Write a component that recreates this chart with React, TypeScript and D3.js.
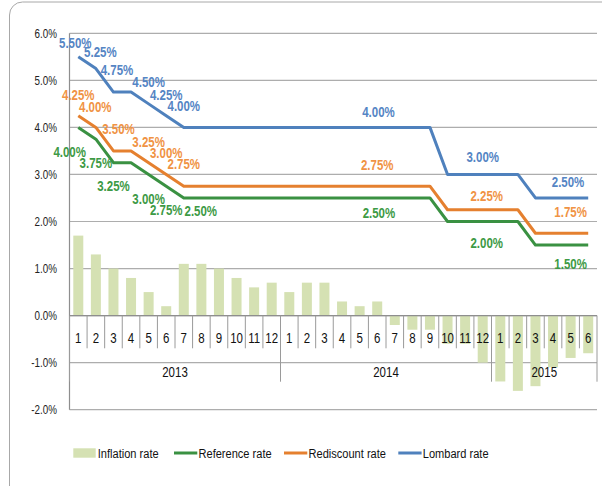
import React from 'react';
import * as d3 from 'd3';

const months = ['1','2','3','4','5','6','7','8','9','10','11','12','1','2','3','4','5','6','7','8','9','10','11','12','1','2','3','4','5','6'];
const yearLabels = ['2013', '2014', '2015'];
const yearLengths = [12, 12, 6];

const inflation = [1.7, 1.3, 1.0, 0.8, 0.5, 0.2, 1.1, 1.1, 1.0, 0.8, 0.6, 0.7,
  0.5, 0.7, 0.7, 0.3, 0.2, 0.3, -0.2, -0.3, -0.3, -0.6, -0.6, -1.0,
  -1.4, -1.6, -1.5, -1.1, -0.9, -0.8];
const referenceRate = [4.0, 3.75, 3.25, 3.25, 3.0, 2.75, 2.5, 2.5, 2.5, 2.5, 2.5, 2.5,
  2.5, 2.5, 2.5, 2.5, 2.5, 2.5, 2.5, 2.5, 2.5, 2.0, 2.0, 2.0,
  2.0, 2.0, 1.5, 1.5, 1.5, 1.5];
const rediscountRate = [4.25, 4.0, 3.5, 3.5, 3.25, 3.0, 2.75, 2.75, 2.75, 2.75, 2.75, 2.75,
  2.75, 2.75, 2.75, 2.75, 2.75, 2.75, 2.75, 2.75, 2.75, 2.25, 2.25, 2.25,
  2.25, 2.25, 1.75, 1.75, 1.75, 1.75];
const lombardRate = [5.5, 5.25, 4.75, 4.75, 4.5, 4.25, 4.0, 4.0, 4.0, 4.0, 4.0, 4.0,
  4.0, 4.0, 4.0, 4.0, 4.0, 4.0, 4.0, 4.0, 4.0, 3.0, 3.0, 3.0,
  3.0, 3.0, 2.5, 2.5, 2.5, 2.5];
const yTicks = [-2, -1, 0, 1, 2, 3, 4, 5, 6];

// which points carry a data label, and where the label sits relative to it
const lombardLabels = [[0, -3, -13.5], [1, 4.5, -16], [2, 3.5, -22], [4, 0, -22], [5, 0, -20.5], [6, 0, -21.3], [17, 1.3, -15.6], [23, 0, -17], [28, -2.6, -16]];
const rediscountLabels = [[0, 0, -20.6], [1, -0.6, -20.6], [2, 5, -21.5], [4, 0, -21], [5, 0, -21], [6, 0, -21.8], [17, 0, -21], [23, 4, -14], [28, 0, -20.8]];
const referenceLabels = [[0, -8.6, 24.4], [1, 0, 24.2], [2, 0, 23.5], [4, 0, 24.7], [5, 0, 24], [6, 17, 13], [17, 1.7, 15.5], [23, 4, 22], [28, 0, 19.2]];

const FONT = '"Liberation Sans", Arial, sans-serif';
const NARROW = 0.82;

// Arial-metric text squeezed horizontally, standing in for a narrow face
const NText = ({ x, y, size, anchor = 'start', weight = 'normal', fill = '#111', children }: any) => (
  <text transform={`translate(${x},${y}) scale(${NARROW},1)`} dy="0.35em" textAnchor={anchor}
    fontSize={size} fontWeight={weight} fill={fill}>{children}</text>
);

const series = [
  { name: 'Reference rate', values: referenceRate, labels: referenceLabels, line: '#3A9142', text: '#3D9A45' },
  { name: 'Rediscount rate', values: rediscountRate, labels: rediscountLabels, line: '#E5802F', text: '#F09344' },
  { name: 'Lombard rate', values: lombardRate, labels: lombardLabels, line: '#4F81BD', text: '#5585C4' },
];

const App = () => {
  const width = 602;
  const height = 486;
  const left = 69.5;
  const right = 597;
  const top = 33.3;
  const bottom = 409.7;

  const x = d3.scaleBand<number>().domain(d3.range(months.length)).range([left, right]).padding(0);
  const y = d3.scaleLinear().domain([-2, 6]).range([bottom, top]);
  const cx = (i: number) => (x(i) as number) + x.bandwidth() / 2;
  const edge = (i: number) => (i === months.length ? right : (x(i) as number));
  const barW = 10;
  const y0 = y(0);

  const line = d3.line<number>().x((_, i) => cx(i)).y(d => y(d));

  const yearStarts = yearLengths.map((_, k) => d3.sum(yearLengths.slice(0, k)));

  const legend = [
    { name: 'Inflation rate', x: 73.3, type: 'rect', color: '#D5E1B3' },
    { name: 'Reference rate', x: 174, type: 'line', color: '#3A9142' },
    { name: 'Rediscount rate', x: 284, type: 'line', color: '#E5802F' },
    { name: 'Lombard rate', x: 398.3, type: 'line', color: '#4F81BD' },
  ];

  return (
    <svg width={width} height={height} style={{ position: 'absolute', left: 0, top: 0, background: '#fff' }} fontFamily={FONT}>
      <rect x={9.5} y={2} width={640} height={500} rx={13} fill="#fff" stroke="#A8A8A8" strokeWidth={1} />

      {yTicks.map(t => (
        <g key={t}>
          <line x1={left} x2={right} y1={y(t)} y2={y(t)} stroke="#ADADAD" strokeWidth={1.2} />
          <NText x={57} y={y(t)} size={12} anchor="end" fill="#222">{t.toFixed(1)}%</NText>
        </g>
      ))}

      {inflation.map((v, i) => (
        <rect key={i} x={cx(i) - barW / 2} width={barW} y={Math.min(y(v), y0)} height={Math.abs(y(v) - y0)} fill="#D5E1B3" />
      ))}

      <line x1={left} x2={left} y1={top} y2={bottom} stroke="#8E8E8E" strokeWidth={1.2} />
      <line x1={left} x2={right} y1={y0} y2={y0} stroke="#8E8E8E" strokeWidth={1.2} />
      {months.map((_, i) => i === 0 ? null : (
        <line key={i} x1={edge(i)} x2={edge(i)} y1={y0} y2={348.3} stroke="#9A9A9A" strokeWidth={1} />
      ))}
      {[...yearStarts, months.length].map((s, k) => (
        <line key={'y' + k} x1={edge(s)} x2={edge(s)} y1={y0} y2={381.7} stroke="#9A9A9A" strokeWidth={1} />
      ))}
      {months.map((m, i) => (
        <NText key={'m' + i} x={cx(i)} y={338.3} size={14} anchor="middle">{m}</NText>
      ))}
      {yearLabels.map((yl, k) => {
        const s = yearStarts[k];
        const mid = (edge(s) + edge(s + yearLengths[k])) / 2;
        return <NText key={yl} x={mid} y={371.7} size={14} anchor="middle">{yl}</NText>;
      })}

      {series.map(s => (
        <path key={s.name} d={line(s.values) as string} fill="none" stroke={s.line} strokeWidth={3} strokeLinejoin="round" />
      ))}
      {series.map(s => s.labels.map(([i, dx, dy]) => (
        <NText key={s.name + i} x={cx(i) + dx} y={y(s.values[i]) + dy} size={14} anchor="middle" weight="bold" fill={s.text}>
          {s.values[i].toFixed(2)}%
        </NText>
      )))}

      {legend.map(l => (
        <g key={l.name}>
          {l.type === 'rect'
            ? <rect x={l.x} y={448.3} width={22.4} height={9.4} fill={l.color} />
            : <line x1={l.x} x2={l.x + 23.3} y1={453} y2={453} stroke={l.color} strokeWidth={3} />}
          <NText x={l.x + 24.5} y={453.3} size={13.5}>{l.name}</NText>
        </g>
      ))}
    </svg>
  );
};

export default App;
